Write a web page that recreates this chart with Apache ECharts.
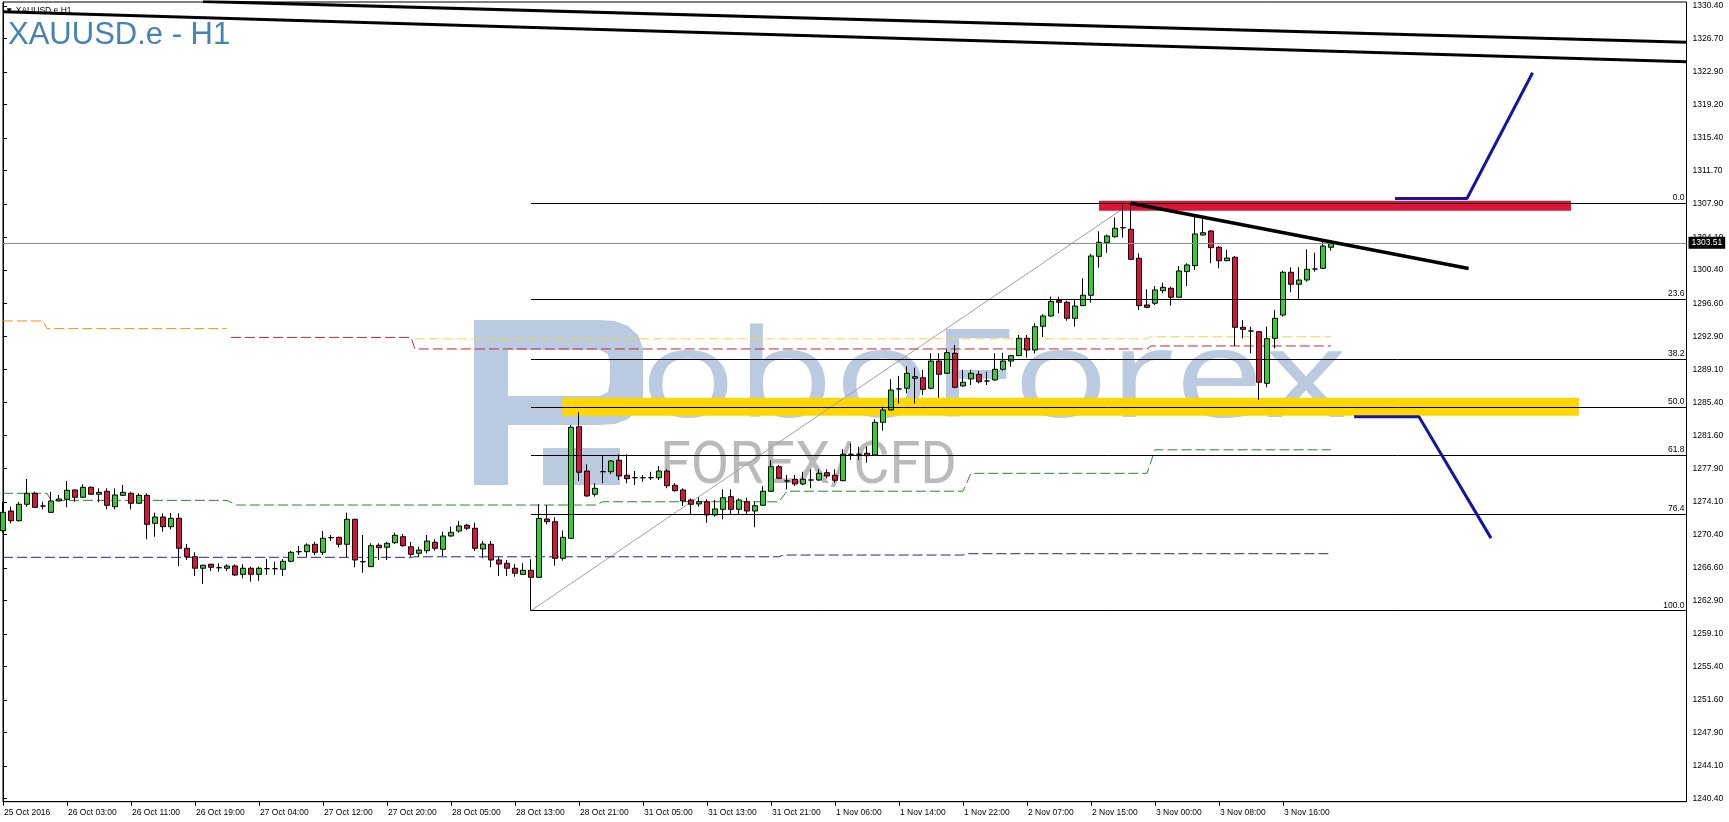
<!DOCTYPE html>
<html><head><meta charset="utf-8">
<script src="https://cdn.jsdelivr.net/npm/echarts@6/dist/echarts.min.js"></script>
<style>html,body{margin:0;padding:0;background:#fff;}#c{width:1729px;height:822px;}</style>
</head><body><div id="c"></div>
<script>
// ---- data ----
const timeLabels = ['25 Oct 2016','26 Oct 03:00','26 Oct 11:00','26 Oct 19:00','27 Oct 04:00','27 Oct 12:00','27 Oct 20:00','28 Oct 05:00','28 Oct 13:00','28 Oct 21:00','31 Oct 05:00','31 Oct 13:00','31 Oct 21:00','1 Nov 06:00','1 Nov 14:00','1 Nov 22:00','2 Nov 07:00','2 Nov 15:00','3 Nov 00:00','3 Nov 08:00','3 Nov 16:00'];
const timeLabelBars = [0,8,16,24,32,40,48,56,64,72,80,88,96,104,112,120,128,136,144,152,160];
const priceTicks = [1330.40,1326.70,1322.90,1319.20,1315.40,1311.70,1307.90,1304.10,1300.40,1296.60,1292.90,1289.10,1285.40,1281.60,1277.90,1274.10,1270.40,1266.60,1262.90,1259.10,1255.40,1251.60,1247.90,1244.10,1240.40];
// [open, close, low, high] per H1 bar
const ohlc = [
[1270.81,1272.90,1270.60,1274.11],[1273.05,1271.95,1271.65,1273.54],[1271.95,1273.81,1271.86,1274.07],[1273.81,1275.06,1273.54,1276.69],
[1275.06,1273.47,1273.40,1275.24],[1273.62,1273.62,1273.24,1274.11],[1272.90,1274.19,1272.85,1275.21],[1274.19,1274.41,1274.15,1274.87],
[1274.38,1275.40,1273.47,1276.46],[1275.44,1274.61,1274.11,1275.48],[1274.61,1275.74,1274.58,1276.08],[1275.74,1274.95,1274.90,1275.85],
[1274.95,1275.17,1274.04,1275.63],[1275.29,1273.70,1273.24,1275.63],[1273.54,1274.87,1273.24,1275.63],[1274.83,1275.17,1274.80,1276.00],
[1275.06,1273.93,1273.24,1275.24],[1273.93,1274.83,1273.90,1275.06],[1274.83,1271.54,1269.84,1275.06],[1271.65,1272.37,1270.13,1272.86],
[1272.37,1271.27,1270.70,1272.79],[1271.27,1272.22,1270.97,1272.82],[1272.22,1268.81,1266.81,1272.79],[1268.81,1267.86,1267.49,1269.30],
[1267.86,1266.55,1265.67,1268.36],[1266.55,1266.89,1264.76,1266.95],[1267.00,1266.66,1266.24,1267.05],[1266.61,1266.61,1266.16,1267.11],
[1266.55,1266.81,1266.24,1267.00],[1266.81,1265.78,1265.67,1267.00],[1265.86,1266.55,1265.41,1267.00],[1266.55,1265.86,1265.02,1266.73],
[1265.86,1266.55,1265.13,1266.73],[1266.50,1266.50,1265.78,1267.60],[1266.50,1266.50,1265.78,1267.29],[1266.43,1267.34,1265.67,1267.60],
[1267.34,1268.36,1267.23,1268.51],[1268.43,1268.43,1268.05,1269.08],[1268.43,1269.19,1267.86,1269.38],[1269.27,1268.36,1268.05,1269.56],
[1268.36,1269.95,1268.05,1270.78],[1270.02,1270.02,1269.64,1270.33],[1270.06,1269.27,1268.93,1270.13],[1269.27,1272.11,1267.79,1272.86],
[1272.11,1267.49,1266.66,1272.15],[1267.29,1267.29,1266.05,1270.33],[1266.73,1269.11,1266.69,1269.38],[1269.16,1268.88,1267.49,1269.38],
[1268.93,1269.38,1267.49,1269.56],[1269.45,1270.29,1269.30,1270.58],[1270.13,1269.11,1268.99,1270.44],[1268.99,1268.13,1267.86,1269.53],
[1268.25,1268.62,1267.86,1268.99],[1268.54,1269.64,1268.25,1270.33],[1269.50,1268.81,1268.54,1269.84],[1268.70,1270.21,1267.94,1270.70],
[1270.21,1270.63,1270.13,1271.27],[1270.78,1271.35,1270.58,1271.92],[1271.43,1271.09,1270.89,1271.58],[1271.09,1268.81,1268.51,1271.72],
[1268.74,1269.30,1267.68,1269.64],[1269.27,1267.49,1266.66,1269.64],[1267.49,1267.03,1265.67,1267.86],[1267.11,1266.55,1265.67,1267.49],
[1266.55,1265.98,1265.59,1267.03],[1265.86,1266.32,1265.78,1267.11],[1266.32,1265.52,1261.73,1267.57],[1265.52,1272.22,1265.45,1273.81],
[1272.14,1271.84,1271.54,1273.73],[1271.84,1267.68,1266.84,1272.34],[1267.68,1270.06,1267.41,1270.84],[1269.95,1282.56,1269.90,1282.82],
[1282.62,1277.45,1276.46,1284.26],[1277.59,1274.76,1274.68,1278.35],[1274.95,1275.63,1274.68,1276.20],[1277.51,1277.51,1276.20,1279.30],
[1277.51,1278.73,1277.25,1278.84],[1278.81,1277.03,1276.57,1279.49],[1277.11,1276.72,1276.20,1279.49],[1276.83,1276.83,1276.00,1277.59],
[1276.83,1276.83,1276.38,1277.14],[1276.83,1276.83,1276.57,1277.51],[1276.83,1277.59,1276.57,1278.16],[1277.59,1275.92,1275.63,1277.79],
[1275.97,1275.36,1275.24,1276.20],[1275.44,1274.19,1273.62,1275.63],[1274.30,1273.81,1272.60,1274.49],[1273.85,1274.11,1273.54,1274.60],
[1274.11,1272.60,1271.72,1274.38],[1272.60,1273.28,1272.40,1274.30],[1273.24,1274.56,1272.11,1275.51],[1274.68,1273.24,1272.60,1275.51],
[1273.24,1274.30,1272.60,1274.49],[1274.11,1273.05,1272.60,1274.56],[1273.05,1273.65,1271.20,1274.11],[1273.70,1275.29,1273.65,1275.89],
[1275.29,1278.08,1275.24,1278.84],[1278.08,1276.76,1276.68,1278.27],[1276.46,1276.46,1275.51,1277.14],[1276.65,1276.12,1275.89,1277.14],
[1276.12,1276.65,1276.00,1277.51],[1276.57,1276.57,1275.63,1277.79],[1276.57,1277.33,1276.46,1277.79],[1277.40,1277.03,1276.76,1277.79],
[1277.11,1276.54,1276.27,1277.79],[1276.49,1279.49,1276.45,1280.06],[1279.49,1279.49,1278.84,1280.74],[1279.49,1279.49,1278.84,1280.35],
[1279.60,1279.33,1278.53,1280.35],[1279.41,1283.12,1279.38,1283.46],[1283.12,1284.52,1282.17,1284.90],[1284.52,1286.79,1284.50,1288.01],
[1286.91,1286.91,1285.28,1288.38],[1286.99,1288.69,1286.42,1289.52],[1288.12,1288.30,1285.28,1289.32],[1288.18,1286.87,1286.22,1289.06],
[1286.99,1290.08,1286.87,1290.96],[1290.08,1288.57,1285.92,1290.96],[1288.69,1291.03,1288.65,1291.41],[1290.96,1287.10,1286.99,1291.90],
[1287.25,1287.67,1287.20,1289.06],[1288.04,1288.69,1287.36,1289.06],[1288.57,1287.73,1287.55,1288.95],[1287.81,1287.81,1287.36,1288.87],
[1287.93,1289.14,1287.85,1290.96],[1289.14,1290.08,1288.98,1291.03],[1290.08,1290.69,1289.44,1290.77],[1290.69,1292.66,1290.65,1293.04],
[1292.66,1291.33,1290.46,1293.04],[1291.33,1293.98,1290.96,1294.37],[1294.03,1295.20,1292.81,1295.40],[1295.20,1296.86,1295.12,1297.39],
[1296.96,1296.75,1295.50,1297.39],[1296.75,1294.93,1294.66,1296.93],[1294.93,1296.33,1293.98,1297.01],[1296.37,1297.55,1296.33,1299.48],
[1297.55,1302.01,1296.73,1302.27],[1301.97,1303.56,1300.68,1304.81],[1303.54,1304.28,1302.38,1304.43],[1304.20,1305.15,1304.09,1306.38],
[1305.22,1305.22,1304.09,1307.80],[1305.04,1301.63,1301.55,1308.00],[1301.75,1296.37,1295.88,1302.32],[1296.45,1296.18,1296.15,1298.23],
[1296.64,1298.15,1296.45,1298.60],[1298.07,1298.45,1297.77,1298.98],[1298.34,1297.32,1296.37,1298.52],[1297.32,1300.31,1297.30,1300.87],
[1300.23,1300.99,1298.60,1301.18],[1300.91,1304.51,1300.42,1306.47],[1304.39,1304.65,1304.35,1306.29],[1304.85,1302.95,1301.18,1304.96],
[1303.00,1301.47,1300.61,1303.14],[1301.47,1301.78,1301.45,1302.69],[1301.86,1293.91,1291.79,1302.01],[1293.91,1293.68,1292.66,1294.74],
[1293.49,1293.49,1290.96,1293.98],[1293.41,1287.67,1285.66,1293.45],[1287.55,1292.62,1287.10,1293.98],[1292.66,1294.93,1291.53,1295.88],
[1295.31,1300.16,1295.12,1300.34],[1300.16,1298.80,1297.89,1300.73],[1298.80,1299.28,1297.13,1300.73],[1299.28,1300.50,1299.09,1302.77],
[1300.53,1300.53,1300.23,1302.38],[1300.61,1303.14,1300.58,1303.63],[1303.00,1303.51,1302.61,1303.63]
];
const currentPrice = 1303.51;
// Fibonacci retracement anchors (bar index, price)
const fibLow = [66, 1261.73];
const fibHigh = [141, 1308.00];
const fibLevels = [0.0, 23.6, 38.2, 50.0, 61.8, 76.4, 100.0];
const fibLabels = ['0.0','23.6','38.2','50.0','61.8','76.4','100.0'];
// drawn objects [bar, price]
const resistanceZone = [[137,1307.72],[196,1307.72]];
const supportZone = [[69.9,1284.90],[197,1284.90]];
const downTrend = [[141,1308.00],[183.2,1300.58]];
const longTrendA = [[0,1329.74],[210.44,1324.07]];
const longTrendB = [[25,1330.92],[210.44,1326.28]];
const bullPath = [[174,1308.54],[183,1308.54],[191.2,1322.81]];
const bearPath = [[168.9,1283.75],[177,1283.75],[186,1269.97]];
// indicator levels (step lines) [bar, price]
const orangeLevel = [[0,1294.63],[5,1294.63],[5.5,1293.76],[28,1293.76]];
const redLevel = [[28.5,1292.76],[51,1292.76],[51.5,1291.45],[143,1291.45],[143.5,1291.79],[166,1291.79]];
const yellowLevel = [[51.5,1292.60],[143,1292.60],[143.5,1292.84],[166,1292.84]];
const greenLevel = [[0,1275.06],[5.5,1275.06],[6,1274.26],[28,1274.26],[29.2,1273.73],[74,1273.73],[75,1274.10],[97,1274.10],[98,1275.30],[120,1275.30],[121,1277.33],[143,1277.33],[144,1280.00],[166,1280.00]];
const navyLevel = [[0,1267.79],[51,1267.79],[51.5,1267.85],[97,1267.85],[97.5,1268.05],[120,1268.05],[120.5,1268.20],[166,1268.20]];

// ---- chart ----
const chart = echarts.init(document.getElementById('c'), null, {renderer:'canvas'});
const XMAX = 210.44, YMIN = 1240.04, YMAX = 1330.85;
const font = 'Liberation Sans';
function lineS(data, color, width, type, z, extra) {
  return Object.assign({type:'line', data, symbol:'none', silent:true, z,
    lineStyle:{color, width, type: type||'solid', cap:'butt'}, animation:false}, extra||{});
}
const fibSpan = fibHigh[1]-fibLow[1];
const fibMarks = fibLevels.map((lv,i)=>{
  const p = fibHigh[1] - fibSpan*lv/100;
  return [{coord:[fibLow[0], p], label:{formatter: fibLabels[i]}}, {coord:[XMAX, p]}];
});
const candleData = ohlc.map((d,i)=>[i, d[0], d[1], d[2], d[3]]);
const wm = 'rgba(140,168,205,0.6)';
const logoPieces = [
  [[474,320],[508,320],[508,485],[474,485]],
  [[508,320],[600,320],[600,350],[508,350]],
  [[508,396],[600,396],[600,425],[508,425]],
  [[600,320],[615,321],[628,326],[638,335],[643,348],[643,397],[638,410],[628,419],[615,424],[600,425],[600,396],[608,392],[610,382],[610,364],[608,354],[600,350]],
  [[543,448],[620,448],[620,485],[543,485]]
];

const option = {
  backgroundColor:'#fff',
  animation:false,
  grid:{left:3, right:42.5, top:2, bottom:20.3, show:true, borderColor:'#000', borderWidth:1, backgroundColor:'#fff'},
  xAxis:{type:'value', min:0, max:XMAX, axisLine:{show:true, lineStyle:{color:'#000'}},
    splitLine:{show:false},
    axisTick:{show:true, customValues: timeLabelBars, length:4, lineStyle:{color:'#000'}},
    axisLabel:{customValues: timeLabelBars, formatter:(v)=>timeLabels[timeLabelBars.indexOf(Math.round(v))]||'',
      align:'left', margin:6, fontSize:8.5, fontFamily:font, color:'#000', padding:[0,0,0,1]}},
  yAxis:{type:'value', position:'right', min:YMIN, max:YMAX, scale:true,
    axisLine:{show:true, lineStyle:{color:'#000'}}, splitLine:{show:false},
    axisTick:{show:true, customValues: priceTicks, length:4, lineStyle:{color:'#000'}},
    axisLabel:{customValues: priceTicks, formatter:(v)=>v.toFixed(2), margin:6, fontSize:8.5, fontFamily:font, color:'#000'}},
  series:[
    lineS(supportZone,'#FFD700',18,'solid',1),
    Object.assign(lineS([], '#000', 1, 'solid', 2), {markLine:{silent:true, symbol:'none', animation:false,
      lineStyle:{color:'#000', width:1, type:'solid'},
      label:{position:'insideEndTop', color:'#000', fontSize:8.5, fontFamily:font, distance:[2,1]},
      data: fibMarks}}),
    lineS([fibLow, fibHigh], '#a0a0a0', 1, 'solid', 2),
    lineS(resistanceZone,'#DC143C',10,'solid',3),
    lineS(orangeLevel,'#FF8C00',1,[10,4],2),
    lineS(yellowLevel,'#F5D547',1,[10,4],2),
    lineS(redLevel,'#C0282D',1,[10,4],2),
    lineS(greenLevel,'#228B22',1,[10,4],2),
    lineS(navyLevel,'#1E2A8C',1,[10,4],2),
    Object.assign(lineS([], '#888', 1, 'solid', 2), {markLine:{silent:true, symbol:'none', animation:false,
      lineStyle:{color:'#8c8c8c', width:1, type:'solid'},
      label:{position:'end', formatter: currentPrice.toFixed(2), color:'#fff', backgroundColor:'#000', fontSize:8.5, fontFamily:font, padding:[2,3,1,3], distance:2},
      data:[{yAxis: currentPrice}]}}),
    {type:'candlestick', data:candleData, encode:{x:0, y:[1,2,3,4]}, barWidth:5, z:4, silent:true, animation:false,
      itemStyle:{color:'#32CD32', color0:'#DC143C', borderColor:'#000', borderColor0:'#000', borderColorDoji:'#000', borderWidth:1}},
    lineS(downTrend,'#000',3.5,'solid',5),
    lineS(longTrendA,'#000',3,'solid',5),
    lineS(longTrendB,'#000',3,'solid',5),
    lineS(bullPath,'#1515A0',3,'solid',5),
    lineS(bearPath,'#1515A0',3,'solid',5)
  ],
  graphic:[
    {type:'text', left:5, top:6, z:50, style:{text:'\u25BC XAUUSD.e,H1', fontSize:8.5, fontFamily:font, fill:'#000'}},
    {type:'text', left:8, top:20, z:50, style:{text:'XAUUSD.e - H1', fontSize:31, fontFamily:font, fill:'#4682B4'}},
    {type:'group', z:100, silent:true, children: logoPieces.map(pts=>({type:'polygon', shape:{points:pts}, style:{fill:wm}})).concat([
      {type:'text', x:640, y:443, scaleX:1.3, style:{text:'oboForex', fontSize:123, fontFamily:'Open Sans', fill:wm, textVerticalAlign:'bottom'}},
      {type:'text', x:660, y:498, scaleX:0.945, style:{text:'FOREX/CFD', fontSize:59, fontFamily:'Roboto', fill:'rgba(140,140,140,0.6)', textVerticalAlign:'bottom'}}
    ])}
  ]
};
chart.setOption(option);
</script></body></html>
